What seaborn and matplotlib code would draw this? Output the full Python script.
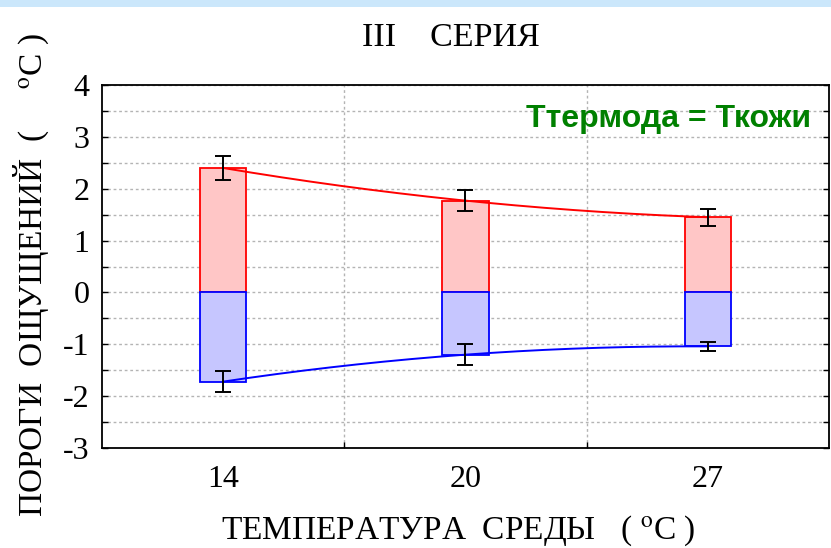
import numpy as np
import pandas as pd
import matplotlib
matplotlib.use("Agg")
import matplotlib.pyplot as plt
from matplotlib.patches import Rectangle
from matplotlib.ticker import MultipleLocator, FixedLocator
from matplotlib import font_manager as fm
import seaborn as sns

# ---- data ----
temps = ["14", "20", "27"]
warm_thr = [2.40, 1.77, 1.45]
warm_err = [0.24, 0.20, 0.16]
cold_thr = [-1.72, -1.20, -1.04]
cold_err = [0.20, 0.20, 0.08]

sns.set_theme(style="white")
plt.rcParams["font.family"] = ["Liberation Serif", "DejaVu Serif"]
plt.rcParams["mathtext.fontset"] = "stix"

# find a real (non-narrow) Liberation Sans Bold
sans_bold = None
for f in fm.fontManager.ttflist:
    if f.name == "Liberation Sans" and "Narrow" not in f.fname and f.weight in (700, "bold") \
            and f.style == "normal":
        sans_bold = fm.FontProperties(fname=f.fname)
        break
if sans_bold is None:
    sans_bold = fm.FontProperties(family="DejaVu Sans", weight="bold")

fig = plt.figure(figsize=(8.31, 5.48), dpi=100)
fig.patch.set_facecolor("white")
fig.patches.append(Rectangle((0, 1 - 7 / 548), 1, 7 / 548, transform=fig.transFigure,
                             facecolor="#cbe7fb", edgecolor="none", zorder=0))
ax = fig.add_axes([102 / 831, (548 - 448) / 548, (829 - 102) / 831, (448 - 85) / 548])

df = pd.DataFrame({"t": temps, "warm": warm_thr, "cold": cold_thr})
sns.barplot(data=df, x="t", y="warm", order=temps, color="#ffc6c6", width=0.19,
            edgecolor="#ff0000", linewidth=1.3, ax=ax, saturation=1, zorder=3)
sns.barplot(data=df, x="t", y="cold", order=temps, color="#c6c6ff", width=0.19,
            edgecolor="#0000ff", linewidth=1.3, ax=ax, saturation=1, zorder=3)

idx = np.arange(len(temps))
xs = np.linspace(0, len(temps) - 1, 200)
pw = np.polyfit(idx, warm_thr, 2)
pc = np.polyfit(idx, cold_thr, 2)
ax.plot(xs, np.polyval(pw, xs), color="#ff0000", lw=1.4, zorder=4)
ax.plot(xs, np.polyval(pc, xs), color="#0000ff", lw=1.4, zorder=4)

ax.errorbar(idx, warm_thr, yerr=warm_err, fmt="none", ecolor="black", elinewidth=1.4,
            capsize=5.7, capthick=1.4, zorder=5)
ax.errorbar(idx, cold_thr, yerr=cold_err, fmt="none", ecolor="black", elinewidth=1.4,
            capsize=5.7, capthick=1.4, zorder=5)

ax.set_xlim(-0.5, 2.5)
ax.set_ylim(-3, 4)
ax.yaxis.set_minor_locator(MultipleLocator(0.5))
ax.xaxis.set_minor_locator(FixedLocator([0.5, 1.5]))
ax.set_yticks(range(-3, 5))
ax.set_yticklabels([str(v) for v in range(-3, 5)])
ax.set_xticks(idx)
ax.set_xticklabels(temps)

ax.grid(True, which="both", axis="y", color="#b4b4b4", linestyle=(0, (2, 2)), lw=1, zorder=0)
ax.grid(True, which="minor", axis="x", color="#b4b4b4", linestyle=(0, (2, 2)), lw=1, zorder=0)
ax.grid(False, which="major", axis="x")
ax.set_axisbelow(True)

for s in ax.spines.values():
    s.set_visible(True)
    s.set_color("black")
    s.set_linewidth(1.3)

ax.tick_params(axis="y", which="both", direction="in", left=True, right=True, length=4,
               width=1, color="black", labelsize=23, pad=9)
ax.tick_params(axis="x", which="major", length=0, labelsize=23, pad=12)
ax.tick_params(axis="x", which="minor", direction="in", bottom=True, length=4, width=1,
               color="black")
for lab in ax.get_xticklabels() + ax.get_yticklabels():
    lab.set_color("black")

ax.set_xlabel("")
ax.set_ylabel("")
fig.text(458 / 831, 1 - 531 / 548, "ТЕМПЕРАТУРА  СРЕДЫ   ( $^{\\mathrm{o}}$C )",
         ha="center", va="center", fontsize=24, color="black")
fig.text(31 / 831, 1 - 275 / 548, "ПОРОГИ  ОЩУЩЕНИЙ  (     $^{\\mathrm{o}}$C )",
         ha="center", va="center", rotation=90, fontsize=24, color="black")

fig.text(451 / 831, 1 - 38 / 548, "III    СЕРИЯ", ha="center", va="center", fontsize=24.5,
         color="black")
ax.text(0.975, 0.905, "Ттермода = Ткожи", transform=ax.transAxes, ha="right", va="center",
        fontproperties=sans_bold, fontsize=23, color="#008000", zorder=6)

fig.savefig("out.png", dpi=100)
